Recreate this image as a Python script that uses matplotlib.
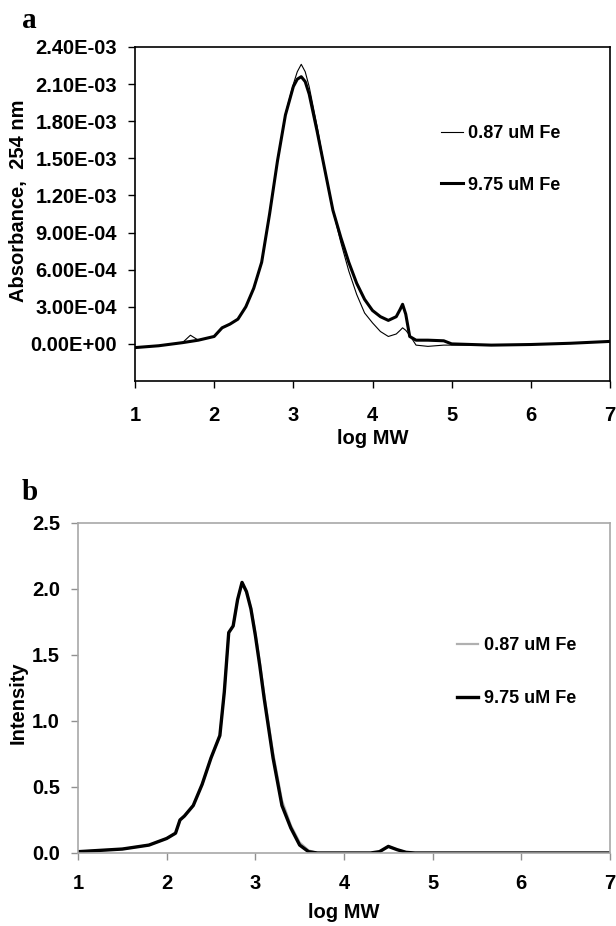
import matplotlib
matplotlib.use("Agg")
import matplotlib.pyplot as plt
from matplotlib.ticker import FuncFormatter

plt.rcParams['font.family'] = ['Liberation Sans', 'DejaVu Sans']
plt.rcParams['font.weight'] = 'bold'

# panel a: absorbance at 254 nm (units of 1e-4)
xa = [1.0, 1.3, 1.6, 1.7, 1.8, 2.0, 2.1, 2.2, 2.3, 2.4, 2.5, 2.6, 2.7, 2.8,
      2.9, 3.0, 3.05, 3.1, 3.15, 3.2, 3.3, 3.4, 3.5, 3.6, 3.7, 3.8, 3.9, 4.0,
      4.1, 4.2, 4.3, 4.35, 4.38, 4.42, 4.47, 4.55, 4.7, 4.9, 5.0, 5.5, 6.0,
      6.5, 7.0]
abs_087 = [-0.3, -0.15, 0.1, 0.7, 0.3, 0.6, 1.3, 1.6, 2.0, 3.0, 4.5, 6.6, 10.5,
           14.8, 18.6, 21.0, 22.0, 22.6, 22.0, 20.8, 17.6, 14.0, 10.8, 8.2,
           5.9, 4.0, 2.5, 1.7, 1.0, 0.6, 0.8, 1.1, 1.3, 1.1, 0.7, -0.1, -0.2,
           -0.1, -0.1, -0.1, -0.05, 0.05, 0.2]
abs_975 = [-0.3, -0.15, 0.1, 0.2, 0.3, 0.6, 1.3, 1.6, 2.0, 3.0, 4.5, 6.6, 10.5,
           14.8, 18.5, 20.8, 21.4, 21.6, 21.2, 20.2, 17.2, 14.0, 10.8, 8.6,
           6.6, 4.9, 3.6, 2.7, 2.2, 1.9, 2.2, 2.8, 3.2, 2.4, 0.6, 0.3, 0.3,
           0.25, 0.0, -0.1, -0.05, 0.05, 0.2]

# panel b: fluorescence intensity
xb = [1.0, 1.5, 1.8, 2.0, 2.1, 2.15, 2.2, 2.3, 2.4, 2.5, 2.6, 2.65, 2.7, 2.75,
      2.8, 2.85, 2.9, 2.95, 3.0, 3.05, 3.1, 3.2, 3.3, 3.4, 3.5, 3.6, 3.7,
      4.3, 4.4, 4.5, 4.6, 4.7, 4.8, 7.0]
int_087 = [0.01, 0.03, 0.06, 0.11, 0.15, 0.25, 0.28, 0.36, 0.52, 0.72, 0.89,
           1.22, 1.67, 1.72, 1.92, 2.05, 1.98, 1.86, 1.67, 1.45, 1.2, 0.76,
           0.40, 0.21, 0.08, 0.02, 0.0, 0.0, 0.01, 0.05, 0.025, 0.005, 0.0, 0.0]
int_975 = [0.01, 0.03, 0.06, 0.11, 0.15, 0.25, 0.28, 0.36, 0.52, 0.72, 0.89,
           1.22, 1.67, 1.72, 1.92, 2.05, 1.98, 1.85, 1.65, 1.42, 1.17, 0.72,
           0.36, 0.19, 0.06, 0.01, 0.0, 0.0, 0.01, 0.05, 0.025, 0.005, 0.0, 0.0]

labels = ['0.87 uM Fe', '9.75 uM Fe']
xticks = [1, 2, 3, 4, 5, 6, 7]

W, H = 616, 926
fig = plt.figure(figsize=(W / 100, H / 100), dpi=100)

def box(l, t, r, b):
    return [l / W, 1 - b / H, (r - l) / W, (b - t) / H]

fs = 14.5
lfs = 13

# ---- panel a ----
ax = fig.add_axes(box(135, 47, 610, 381))
ax.plot(xa, [v * 1e-4 for v in abs_087], color='black', lw=0.8, label=labels[0])
ax.plot(xa, [v * 1e-4 for v in abs_975], color='black', lw=2.2, label=labels[1])
ax.set_xlim(1, 7)
ax.set_ylim(-3e-4, 2.4e-3)
ax.set_xticks(xticks)
ax.set_yticks([i * 3e-4 for i in range(9)])
ax.yaxis.set_major_formatter(FuncFormatter(lambda v, p: '%.2E' % v if abs(v) > 1e-9 else '0.00E+00'))
ax.tick_params(direction='out', length=5, width=1, labelsize=fs)
ax.tick_params(axis='x', pad=13)
ax.tick_params(axis='y', pad=8)
for s in ax.spines.values():
    s.set_linewidth(1.2)
ax.set_xlabel('log MW', fontsize=fs, fontweight='bold')
ax.xaxis.set_label_coords(0.5, -0.144)
ax.set_ylabel('Absorbance,  254 nm', fontsize=fs, fontweight='bold')
ax.yaxis.set_label_coords(-0.225, 0.54)
ax.legend(loc='upper left', bbox_to_anchor=(0.644, 0.765), frameon=False,
          fontsize=lfs, handlelength=1.2, handletextpad=0.3,
          labelspacing=1.9, borderpad=0, borderaxespad=0)
fig.text(22 / W, 1 - 20 / H, 'a', family='Liberation Serif', fontsize=21,
         fontweight='bold', ha='left', va='center')

# ---- panel b ----
bx = fig.add_axes(box(78, 523, 610, 853))
bx.plot(xb, int_087, color='#b0b0b0', lw=1.6, label=labels[0])
bx.plot(xb, int_975, color='black', lw=2.4, label=labels[1])
bx.set_xlim(1, 7)
bx.set_ylim(0, 2.5)
bx.set_xticks(xticks)
bx.set_yticks([0, 0.5, 1.0, 1.5, 2.0, 2.5])
bx.yaxis.set_major_formatter(FuncFormatter(lambda v, p: '%.1f' % v))
bx.tick_params(direction='out', length=5, width=1, color='#909090',
               labelsize=fs)
bx.tick_params(axis='x', pad=10)
bx.tick_params(axis='y', pad=8)
for s in bx.spines.values():
    s.set_color('#a8a8a8')
    s.set_linewidth(1.2)
bx.set_xlabel('log MW', fontsize=fs, fontweight='bold')
bx.xaxis.set_label_coords(0.5, -0.15)
bx.set_ylabel('Intensity', fontsize=fs, fontweight='bold')
bx.yaxis.set_label_coords(-0.094, 0.455)
bx.legend(loc='upper left', bbox_to_anchor=(0.712, 0.655), frameon=False,
          fontsize=lfs, handlelength=1.2, handletextpad=0.3,
          labelspacing=2.0, borderpad=0, borderaxespad=0)
fig.text(22 / W, 1 - 493 / H, 'b', family='Liberation Serif', fontsize=21,
         fontweight='bold', ha='left', va='center')

fig.savefig('out.png', dpi=100)
